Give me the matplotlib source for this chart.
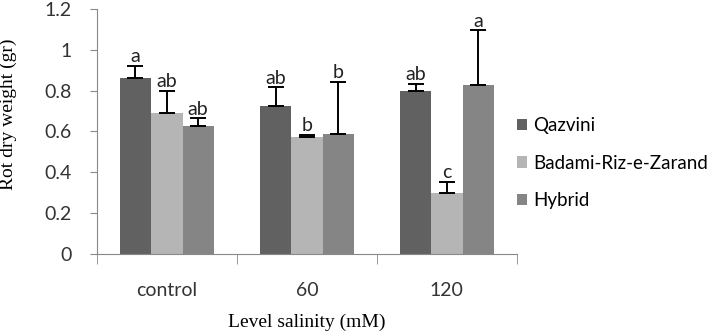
import numpy as np
import matplotlib
matplotlib.use("Agg")
import matplotlib.pyplot as plt
from matplotlib.ticker import FixedLocator

# data
categories = ["control", "60", "120"]
cultivars = ["Qazvini", "Badami-Riz-e-Zarand", "Hybrid"]
qazvini = [0.863, 0.725, 0.800]
badami = [0.690, 0.574, 0.297]
hybrid = [0.627, 0.588, 0.828]
qazvini_err = [0.060, 0.092, 0.032]
badami_err = [0.110, 0.009, 0.057]
hybrid_err = [0.038, 0.255, 0.267]
qazvini_letters = ["a", "ab", "ab"]
badami_letters = ["ab", "b", "c"]
hybrid_letters = ["ab", "b", "a"]

colors = ["#616161", "#b5b5b5", "#858585"]
SANS = "Lato"
SERIF = "Liberation Serif"

fig = plt.figure(figsize=(7.12, 3.34), dpi=100)
ax = fig.add_axes([0.136, 0.240, 0.590, 0.733])

x = np.arange(len(categories))
width = 0.224
series = [(qazvini, qazvini_err, qazvini_letters),
          (badami, badami_err, badami_letters),
          (hybrid, hybrid_err, hybrid_letters)]

for i, (vals, errs, letters) in enumerate(series):
    pos = x + (i - 1) * width
    ax.bar(pos, vals, width, color=colors[i], label=cultivars[i], zorder=2)
    # upper error bar only
    ax.errorbar(pos, vals, yerr=[np.zeros(len(vals)), errs], fmt="none",
                ecolor="black", elinewidth=1.4, capsize=5.5, capthick=1.4, zorder=3)
    for p, v, e, lab in zip(pos, vals, errs, letters):
        ax.text(p, v + e + 0.003, lab, ha="center", va="bottom",
                fontsize=14, family=SANS, color="#222222")

ax.set_xlim(-0.5, 2.5)
ax.set_ylim(0, 1.2)
ax.set_yticks(np.arange(0, 1.21, 0.2))
ax.set_yticklabels(["0", "0.2", "0.4", "0.6", "0.8", "1", "1.2"])

# category labels centred, tick marks at boundaries
ax.set_xticks(x)
ax.set_xticklabels(categories)
ax.xaxis.set_minor_locator(FixedLocator([-0.5, 0.5, 1.5, 2.5]))
ax.tick_params(axis="x", which="major", length=0, pad=20)
ax.tick_params(axis="x", which="minor", length=7, color="#888888", direction="out")
ax.tick_params(axis="y", length=5, color="#888888", direction="out", pad=13)

for lab in ax.get_xticklabels() + ax.get_yticklabels():
    lab.set_family(SANS)
    lab.set_fontsize(14)
    lab.set_color("#333333")

ax.spines["top"].set_visible(False)
ax.spines["right"].set_visible(False)
ax.spines["left"].set_color("#888888")
ax.spines["bottom"].set_color("#888888")

ax.set_ylabel("Rot dry weight (gr)", family=SERIF, fontsize=14)
ax.yaxis.set_label_coords(-0.19, 0.57)
ax.set_xlabel("Level salinity (mM)", family=SERIF, fontsize=14)
ax.xaxis.set_label_coords(0.5, -0.245)

ax.legend(loc="center left", bbox_to_anchor=(1.0, 0.371), frameon=False,
          borderaxespad=0, borderpad=0,
          prop={"family": SANS, "size": 13.5}, handlelength=0.55,
          handleheight=0.55, handletextpad=0.3, labelspacing=1.1)

fig.savefig("out.png", dpi=100, facecolor="white")
